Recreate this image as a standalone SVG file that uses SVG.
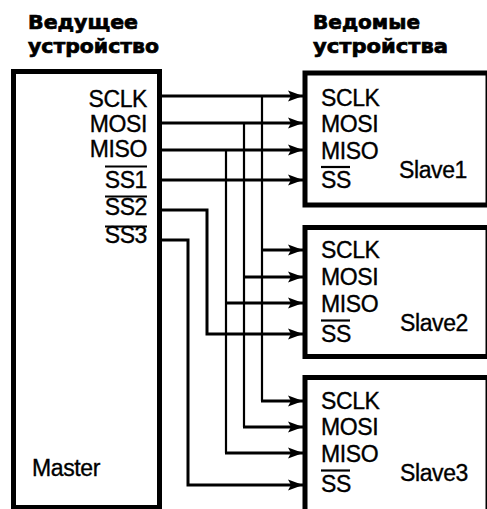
<svg xmlns="http://www.w3.org/2000/svg" width="487" height="509" viewBox="0 0 487 509">
<style>
.box{fill:#fff;stroke:#000;stroke-width:5}
.lbl{font-family:"Liberation Sans",Arial,sans-serif;font-size:23px;letter-spacing:-0.4px;fill:#000;stroke:#000;stroke-width:0.35}
.ttl{font-family:"DejaVu Sans","Liberation Sans",sans-serif;font-weight:bold;font-size:20px;fill:#000;stroke:#000;stroke-width:0.7}
.w{fill:none;stroke:#000;stroke-width:3}
.t{fill:none;stroke:#000;stroke-width:2.2}
.ov{stroke:#000;stroke-width:2.2}
</style>
<defs>
<marker id="ah" markerUnits="userSpaceOnUse" markerWidth="16" markerHeight="12" refX="15" refY="6" orient="auto">
<path d="M0,0.5 L15,6 L0,11.5 L3,6 Z" fill="#000"/>
</marker>
</defs>
<rect width="487" height="509" fill="#fff"/>
<g id="title-master">
<text class="ttl" x="28" y="29" textLength="110" lengthAdjust="spacingAndGlyphs">Ведущее</text>
<text class="ttl" x="28" y="53" textLength="131" lengthAdjust="spacingAndGlyphs">устройство</text>
</g>
<g id="title-slaves">
<text class="ttl" x="313" y="29" textLength="107" lengthAdjust="spacingAndGlyphs">Ведомые</text>
<text class="ttl" x="313" y="53" textLength="135" lengthAdjust="spacingAndGlyphs">устройства</text>
</g>
<g id="master">
<rect class="box" x="13.5" y="71.5" width="146" height="436"/>
<g class="lbl" text-anchor="end">
<text x="147" y="106.5">SCLK</text>
<text x="147" y="131.5">MOSI</text>
<text x="147" y="156.5">MISO</text>
<text x="147" y="188">SS1</text>
<text x="147" y="215">SS2</text>
<text x="147" y="243">SS3</text>
</g>
<line class="ov" x1="105" y1="166.5" x2="147" y2="166.5"/>
<line class="ov" x1="105" y1="196.5" x2="147" y2="196.5"/>
<line class="ov" x1="105" y1="226.5" x2="147" y2="226.5"/>
<text class="lbl" x="32" y="476">Master</text>
</g>
<g id="slave1">
<rect class="box" x="305" y="73" width="183" height="132"/>
<g class="lbl">
<text x="321" y="105.5">SCLK</text>
<text x="321" y="132">MOSI</text>
<text x="321" y="158.5">MISO</text>
<text x="321" y="188">SS</text>
<text x="399" y="178">Slave1</text>
</g>
<line class="ov" x1="321" y1="167" x2="350" y2="167"/>
</g>
<g id="slave2">
<rect class="box" x="305" y="227.5" width="183" height="129"/>
<g class="lbl">
<text x="321" y="258">SCLK</text>
<text x="321" y="285">MOSI</text>
<text x="321" y="311.5">MISO</text>
<text x="321" y="341.5">SS</text>
<text x="400" y="331">Slave2</text>
</g>
<line class="ov" x1="321" y1="320.5" x2="350" y2="320.5"/>
</g>
<g id="slave3">
<rect class="box" x="305" y="377.5" width="183" height="140"/>
<g class="lbl">
<text x="321" y="408.5">SCLK</text>
<text x="321" y="435">MOSI</text>
<text x="321" y="461.5">MISO</text>
<text x="321" y="491.5">SS</text>
<text x="400" y="481">Slave3</text>
</g>
<line class="ov" x1="321" y1="470.5" x2="350" y2="470.5"/>
</g>
<g id="connectors">
<path class="w" d="M161,96 H303" marker-end="url(#ah)"/>
<path class="t" d="M262,96 V401"/>
<path class="w" d="M262,250 H303" marker-end="url(#ah)"/>
<path class="w" d="M261,401 H303" marker-end="url(#ah)"/>
<path class="w" d="M161,123 H303" marker-end="url(#ah)"/>
<path class="t" d="M244,123 V427"/>
<path class="w" d="M244,277 H303" marker-end="url(#ah)"/>
<path class="w" d="M243,427 H303" marker-end="url(#ah)"/>
<path class="w" d="M161,150 H303" marker-end="url(#ah)"/>
<path class="t" d="M226,150 V453"/>
<path class="w" d="M226,303 H303" marker-end="url(#ah)"/>
<path class="w" d="M225,453 H303" marker-end="url(#ah)"/>
<path class="w" d="M161,180 H303" marker-end="url(#ah)"/>
<path class="w" d="M161,210 H207 V334 H303" marker-end="url(#ah)"/>
<path class="w" d="M161,240 H188 V485 H303" marker-end="url(#ah)"/>
</g>
</svg>
